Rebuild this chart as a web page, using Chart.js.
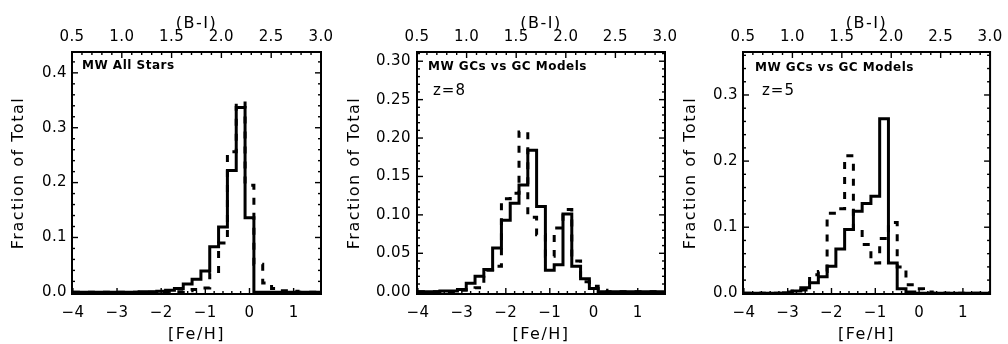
<!DOCTYPE html>
<html><head><meta charset="utf-8">
<script src="https://cdn.jsdelivr.net/npm/chart.js@4.4.0/dist/chart.umd.min.js"></script>
<style>
html,body{margin:0;padding:0;background:#fff;}
#wrap{position:relative;width:1008px;height:344px;overflow:hidden;background:#fff;}
canvas{position:absolute;left:0;top:0;}
</style></head><body>
<div id="wrap">
<canvas id="c1" width="1008" height="344"></canvas>
<canvas id="c2" width="1008" height="344"></canvas>
<canvas id="c3" width="1008" height="344"></canvas>
</div>
<script>
// ---- data ----
const FEH_BINS = [-4.0,-3.8,-3.6,-3.4,-3.2,-3.0,-2.8,-2.6,-2.4,-2.2,-2.0,-1.8,-1.6,-1.4,-1.2,-1.0,-0.8,-0.6,-0.4,-0.2,0.0,0.2,0.4,0.6,0.8,1.0,1.2,1.4,1.6];
const FEH_TICKS = [-4,-3,-2,-1,0,1];
const BI_TICKS = [0.5,1.0,1.5,2.0,2.5,3.0];
const Y_TICKS_ALL = [0.0,0.1,0.2,0.3,0.4];
const Y_TICKS_Z8 = [0.00,0.05,0.10,0.15,0.20,0.25,0.30];
const Y_TICKS_Z5 = [0.0,0.1,0.2,0.3];

const MW_ALL_SOLID = [0,0,0,0,0,0,0,0,0.001,0.001,0.002,0.004,0.007,0.015,0.024,0.039,0.083,0.119,0.222,0.337,0.136,0,0,0,0,0,0,0,0];
const MW_ALL_DASH  = [0,0,0,0,0,0,0,0,0,0,0,0,0.001,0.003,0.005,0.008,0.035,0.090,0.256,0.345,0.195,0.051,0.017,0.007,0.003,0.002,0,0,0];
const GC_Z8_SOLID  = [0,0,0,0.001,0.001,0.003,0.011,0.020,0.029,0.057,0.093,0.115,0.139,0.184,0.111,0.028,0.035,0.101,0.033,0.017,0.004,0,0,0,0,0,0,0,0];
const MW_GC_DASH   = [0,0,0,0,0,0.002,0.003,0.005,0.028,0.033,0.121,0.128,0.208,0.097,0.074,0.046,0.083,0.107,0.040,0.013,0.007,0.002,0,0,0,0,0,0,0];
const GC_Z5_SOLID  = [0,0,0,0,0,0.001,0.0035,0.0086,0.016,0.025,0.041,0.067,0.0965,0.124,0.136,0.147,0.264,0.046,0.007,0.002,0,0,0,0,0,0,0,0,0];

// ---- layout / style ----
const FEH_MIN = -4.02, FEH_MAX = 1.62;
const BI_MIN = 0.5, BI_MAX = 3.0;
const FONT = 'DejaVu Sans';
const INK = '#000';

const framePlugin = {
  id: 'frame',
  beforeDraw(chart){ chart.ctx.letterSpacing = '1.5px'; },
  beforeDatasetsDraw(chart){ chart.ctx.letterSpacing = '0.4px'; },
  afterDraw(chart, args, o){
    const ctx = chart.ctx, a = chart.chartArea;
    const sx = chart.scales.x, sx2 = chart.scales.x2, sy = chart.scales.y;
    ctx.save();
    ctx.strokeStyle = INK;
    ctx.lineWidth = 1.4;
    const MAJ = 6, MIN = 3;
    function marks(scale, step, majors, side){
      const lo = Math.ceil(scale.min/step - 1e-6), hi = Math.floor(scale.max/step + 1e-6);
      for (let k = lo; k <= hi; k++){
        const v = k*step;
        const isMaj = majors.some(m => Math.abs(m - v) < step/10);
        const L = isMaj ? MAJ : MIN;
        const p = scale.getPixelForValue(v);
        ctx.beginPath();
        if (side === 'bottom'){ ctx.moveTo(p, a.bottom); ctx.lineTo(p, a.bottom - L); }
        else if (side === 'top'){ ctx.moveTo(p, a.top); ctx.lineTo(p, a.top + L); }
        else if (side === 'left'){ ctx.moveTo(a.left, p); ctx.lineTo(a.left + L, p); }
        else { ctx.moveTo(a.right, p); ctx.lineTo(a.right - L, p); }
        ctx.stroke();
      }
    }
    marks(sx, 0.2, FEH_TICKS, 'bottom');
    marks(sx2, 0.1, BI_TICKS, 'top');
    marks(sy, o.yMinor, o.yTicks, 'left');
    marks(sy, o.yMinor, o.yTicks, 'right');
    ctx.lineWidth = 2;
    ctx.strokeRect(a.left, a.top, a.right - a.left, a.bottom - a.top);
    ctx.fillStyle = INK;
    ctx.textAlign = 'left';
    ctx.textBaseline = 'middle';
    (o.notes || []).forEach(n => {
      ctx.font = (n.weight || 'normal') + ' ' + n.size + 'px "' + FONT + '"';
      ctx.letterSpacing = n.ls + 'px';
      ctx.fillText(n.text, a.left + n.dx, a.top + n.dy);
    });
    ctx.letterSpacing = '0px';
    ctx.restore();
    ctx.letterSpacing = '0px';
  }
};

function fmtFeh(v){ return v < 0 ? '\u2212' + Math.abs(v) : String(v); }

function makePanel(id, p){
  const tickFont = {family: FONT, size: 15};
  const titleFont = {family: FONT, size: 16};
  return new Chart(document.getElementById(id), {
    type: 'line',
    data: {
      labels: FEH_BINS,
      datasets: [
        {data: p.solid, borderColor: INK, borderWidth: 3, pointRadius: 0, stepped: 'middle', fill: false, xAxisID: 'x', yAxisID: 'y'},
        {data: p.dash, borderColor: INK, borderWidth: 3, borderDash: [7, 8], pointRadius: 0, stepped: 'middle', fill: false, xAxisID: 'x', yAxisID: 'y'}
      ]
    },
    options: {
      responsive: false,
      animation: false,
      events: [],
      layout: {padding: {left: p.padLeft, right: p.padRight, top: 0, bottom: 0}},
      plugins: {
        legend: {display: false}, tooltip: {enabled: false}, title: {display: false},
        frame: {yTicks: p.yTicks, yMinor: p.yMinor, notes: p.notes}
      },
      scales: {
        x: {
          type: 'linear', position: 'bottom', min: FEH_MIN, max: FEH_MAX,
          afterBuildTicks: s => { s.ticks = FEH_TICKS.map(v => ({value: v})); },
          afterFit: s => { s.height = 50; },
          grid: {display: false, drawTicks: false}, border: {display: false},
          ticks: {padding: 10, font: tickFont, color: INK, z: 1, maxRotation: 0, autoSkip: false, callback: v => fmtFeh(v)},
          title: {display: true, text: '[Fe/H]', font: titleFont, color: INK, padding: {top: 0, bottom: 0}}
        },
        x2: {
          type: 'linear', position: 'top', min: BI_MIN, max: BI_MAX,
          afterBuildTicks: s => { s.ticks = BI_TICKS.map(v => ({value: v})); },
          afterFit: s => { s.height = 52; },
          grid: {display: false, drawTicks: false}, border: {display: false},
          ticks: {padding: 6, font: tickFont, color: INK, z: 1, maxRotation: 0, autoSkip: false, callback: v => v.toFixed(1)},
          title: {display: true, text: '(B-I)', font: titleFont, color: INK, padding: {top: 14, bottom: 0}}
        },
        y: {
          type: 'linear', position: 'left', min: p.yMin, max: p.yMax,
          afterBuildTicks: s => { s.ticks = p.yTicks.map(v => ({value: v})); },
          afterFit: s => { s.width = p.yWidth; },
          grid: {display: false, drawTicks: false}, border: {display: false},
          ticks: {padding: p.yPad, font: tickFont, color: INK, z: 1, autoSkip: false, callback: v => v.toFixed(p.yDec)},
          title: {display: true, text: 'Fraction of Total', font: titleFont, color: INK, padding: {top: 9, bottom: 0}}
        }
      }
    },
    plugins: [framePlugin]
  });
}

makePanel('c1', {
  padLeft: 0, padRight: 1008 - 321, yWidth: 72, yPad: 5,
  yMin: -0.003, yMax: 0.438, yTicks: Y_TICKS_ALL, yDec: 1, yMinor: 0.02,
  solid: MW_ALL_SOLID, dash: MW_ALL_DASH,
  notes: [{text: 'MW All Stars', size: 12, weight: 'bold', ls: 0.5, dx: 10, dy: 14}]
});
makePanel('c2', {
  padLeft: 336, padRight: 1008 - 665, yWidth: 81, yPad: 6,
  yMin: -0.003, yMax: 0.312, yTicks: Y_TICKS_Z8, yDec: 2, yMinor: 0.01,
  solid: GC_Z8_SOLID, dash: MW_GC_DASH,
  notes: [{text: 'MW GCs vs GC Models', size: 12, weight: 'bold', ls: 0.5, dx: 11, dy: 15},
          {text: 'z=8', size: 15, ls: 1, dx: 16, dy: 39}]
});
makePanel('c3', {
  padLeft: 672, padRight: 1008 - 991, yWidth: 71, yPad: 5,
  yMin: -0.001, yMax: 0.365, yTicks: Y_TICKS_Z5, yDec: 1, yMinor: 0.02,
  solid: GC_Z5_SOLID, dash: MW_GC_DASH,
  notes: [{text: 'MW GCs vs GC Models', size: 12, weight: 'bold', ls: 0.5, dx: 12, dy: 16},
          {text: 'z=5', size: 15, ls: 1, dx: 19, dy: 39}]
});
</script>
</body></html>
